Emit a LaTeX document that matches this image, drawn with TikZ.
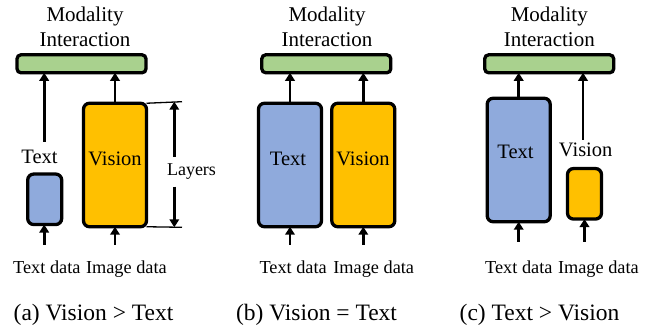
\documentclass[tikz,border=0pt]{standalone}
\usepackage{fontspec}
\setmainfont{Liberation Serif}
\usetikzlibrary{arrows.meta}
\definecolor{tblue}{HTML}{8FAADC}
\definecolor{vorange}{HTML}{FFC000}
\definecolor{mgreen}{HTML}{A9D18E}
\tikzset{
  box/.style={draw=black,line width=3.3pt,rounded corners=6pt,inner sep=0pt,outer sep=0pt,rectangle},
  bigbox/.style={box,minimum width=63pt,minimum height=123.5pt},
  smallbox/.style={box,minimum width=34pt,minimum height=50.5pt},
  interbox/.style={box,fill=mgreen,minimum width=129pt,minimum height=18pt,rounded corners=4pt},
  arr/.style={line width=2.8pt,-{Triangle[length=8pt,width=9.5pt]}},
  dimline/.style={line width=1.3pt},
  titletxt/.style={inner sep=0pt,anchor=base,font=\fontsize{21}{25}\selectfont},
  boxtxt/.style={inner sep=0pt,anchor=base,font=\fontsize{20.5}{24}\selectfont},
  datatxt/.style={inner sep=0pt,anchor=base,font=\fontsize{18.3}{22}\selectfont},
  captxt/.style={inner sep=0pt,anchor=base,font=\fontsize{23.5}{28}\selectfont},
}
\begin{document}
\begin{tikzpicture}[x=1pt,y=-1pt]
\useasboundingbox (0,0) rectangle (654,328);
% ---------- (a) ----------
\node[titletxt] (ma1) at (85,21.5) {Modality};
\node[titletxt] (ma2) at (85,46.5) {Interaction};
\node[interbox] (ga) at (81.5,63.8) {};
\node[smallbox,fill=tblue] (ta) at (44.7,199.3) {};
\node[bigbox,fill=vorange] (va) at (115,165) {};
\node[boxtxt] (va-l) at (115,165.7) {Vision};
\node[boxtxt] (ta-l) at (39.5,163.3) {Text};
\coordinate (ta-up) at (44.2,142);
\draw[arr] (ta-up) -- (ta-up |- ga.south);
\draw[arr] (va.north) -- (va.north |- ga.south);
\coordinate (ta-in) at (44.2,245);
\coordinate (va-in) at (115,245);
\draw[arr] (ta-in) -- (ta-in |- ta.south);
\draw[arr] (va-in) -- (va.south);
\node[datatxt,anchor=base west] (tda) at (13,273.3) {Text data};
\node[datatxt,anchor=base east] (ida) at (167,273.3) {Image data};
\node[captxt] (capa) at (93.5,321) {(a) Vision {>} Text};
% Layers
\coordinate (lt) at (182,101.7);
\coordinate (lb) at (182,227.3);
\draw[dimline] (va.north east) -- (lt);
\draw[dimline] (va.south east) -- (lb);
\node[datatxt,font=\fontsize{18}{22}\selectfont] (lay) at (191.5,176) {Layers};
\coordinate (lat) at (174.3,157);
\coordinate (lab) at (174.3,186.7);
\draw[arr] (lat) -- (lat |- lt);
\draw[arr] (lab) -- (lab |- lb);
% ---------- (b) ----------
\node[titletxt] (mb1) at (327,21.5) {Modality};
\node[titletxt] (mb2) at (327,46.5) {Interaction};
\node[interbox] (gb) at (326.3,63.8) {};
\node[bigbox,fill=tblue] (tb) at (290,165) {};
\node[bigbox,fill=vorange] (vb) at (363.3,165) {};
\node[boxtxt] (tb-l) at (288,165.7) {Text};
\node[boxtxt] (vb-l) at (363,165.7) {Vision};
\draw[arr] (tb.north) -- (tb.north |- gb.south);
\draw[arr] (vb.north) -- (vb.north |- gb.south);
\coordinate (tb-in) at (290,245);
\coordinate (vb-in) at (363.3,245);
\draw[arr] (tb-in) -- (tb.south);
\draw[arr] (vb-in) -- (vb.south);
\node[datatxt,anchor=base west] (tdb) at (259.3,273.3) {Text data};
\node[datatxt,anchor=base east] (idb) at (414.3,273.3) {Image data};
\node[captxt] (capb) at (316.5,321) {(b) Vision = Text};
% ---------- (c) ----------
\node[titletxt] (mc1) at (549.3,21.5) {Modality};
\node[titletxt] (mc2) at (549.3,46.5) {Interaction};
\node[interbox] (gc) at (549.2,63.8) {};
\node[bigbox,fill=tblue] (tc) at (518.7,160) {};
\node[smallbox,fill=vorange] (vc) at (584.5,193.8) {};
\node[boxtxt] (tc-l) at (515.5,158.3) {Text};
\node[boxtxt] (vc-l) at (585.7,156.7) {Vision};
\draw[arr] (tc.north) -- (tc.north |- gc.south);
\coordinate (vc-up) at (583,140);
\draw[arr] (vc-up) -- (vc-up |- gc.south);
\coordinate (tc-in) at (518.7,242);
\coordinate (vc-in) at (584.5,242);
\draw[arr] (tc-in) -- (tc.south);
\draw[arr] (vc-in) -- (vc.south);
\node[datatxt,anchor=base west] (tdc) at (485,273.3) {Text data};
\node[datatxt,anchor=base east] (idc) at (639,273.3) {Image data};
\node[captxt] (capc) at (539.5,321) {(c) Text {>} Vision};
\end{tikzpicture}
\end{document}
